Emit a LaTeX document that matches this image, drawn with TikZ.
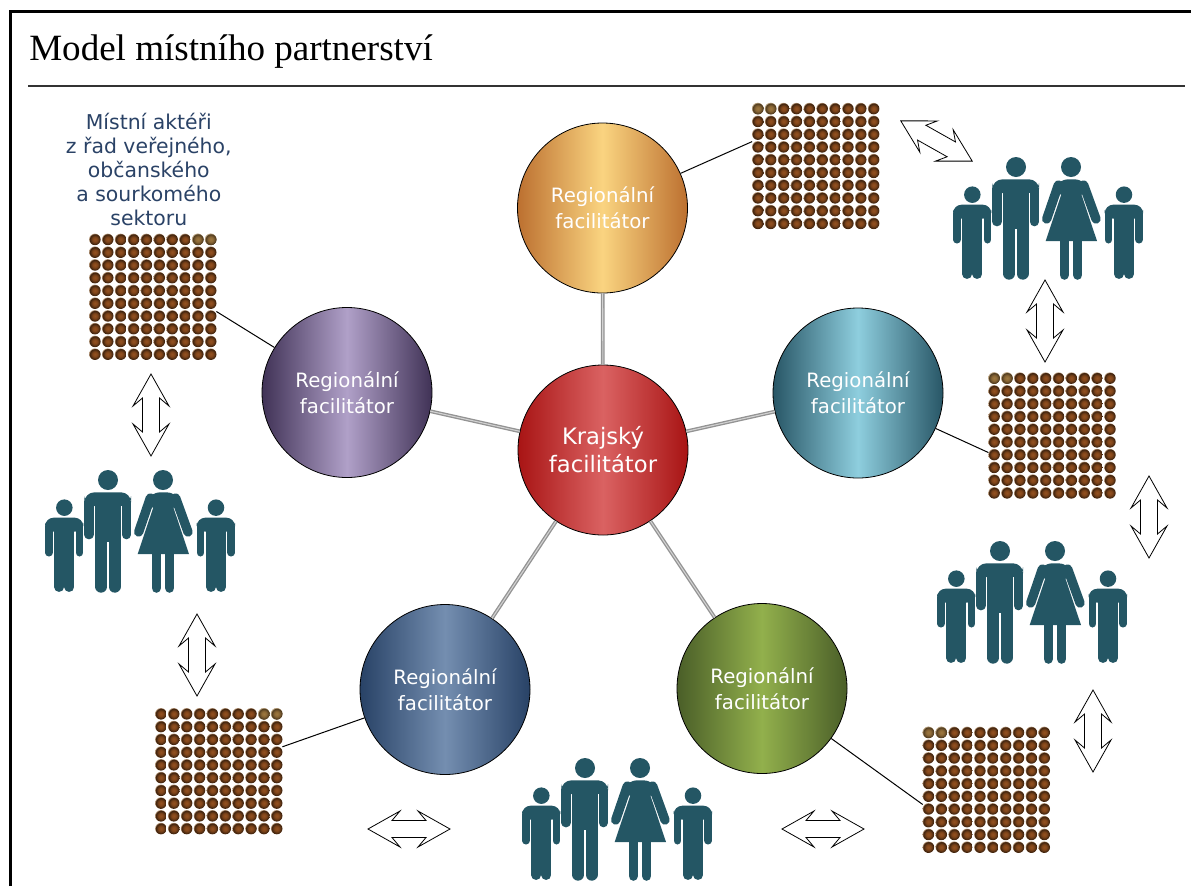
\documentclass[tikz,border=0pt]{standalone}
\usepackage{fontspec}
\setmainfont{DejaVu Sans}
\newfontfamily\titlefont{Liberation Serif}
\usetikzlibrary{positioning}
\definecolor{famteal}{RGB}{36,86,100}
\definecolor{actorblue}{RGB}{42,66,102}
\definecolor{krajedge}{RGB}{168,20,20}
\definecolor{krajmid}{RGB}{218,98,98}
\definecolor{ochreedge}{RGB}{188,112,48}
\definecolor{ochremid}{RGB}{250,212,128}
\definecolor{tealedge}{RGB}{40,86,102}
\definecolor{tealmid}{RGB}{142,206,222}
\definecolor{plumedge}{RGB}{64,50,86}
\definecolor{plummid}{RGB}{176,160,200}
\definecolor{navyedge}{RGB}{40,66,102}
\definecolor{navymid}{RGB}{116,142,176}
\definecolor{oliveedge}{RGB}{74,94,40}
\definecolor{olivemid}{RGB}{146,176,76}
\pgfdeclareradialshading{ballbrown}{\pgfpoint{0bp}{0bp}}{rgb(0bp)=(0.58,0.32,0.13); rgb(11bp)=(0.50,0.27,0.10); rgb(19bp)=(0.30,0.17,0.07); rgb(23bp)=(0.24,0.13,0.05); rgb(25bp)=(0.70,0.58,0.46); rgb(50bp)=(1,1,1)}
\pgfdeclareradialshading{ballpale}{\pgfpoint{0bp}{0bp}}{rgb(0bp)=(0.62,0.47,0.25); rgb(11bp)=(0.55,0.41,0.21); rgb(19bp)=(0.38,0.28,0.15); rgb(23bp)=(0.30,0.23,0.12); rgb(25bp)=(0.75,0.66,0.52); rgb(50bp)=(1,1,1)}

\tikzset{
	family/.pic={
		\begin{scope}[x=0.25pt,y=-0.25pt]
			% man
			\fill [famteal] (189,30) circle [radius=7.5pt];
			\fill [famteal,rounded corners=7.5pt] (118,108) -- (118,67) -- (258,67) -- (258,108) -- cycle;
			\draw [famteal,line width=7pt,line cap=round] (132,95) -- (132,194);
			\draw [famteal,line width=7pt,line cap=round] (244,95) -- (244,194);
			\fill [famteal] (150,90) rectangle (227,215);
			\draw [famteal,line width=9pt,line cap=round] (168.5,205) -- (168.5,350);
			\draw [famteal,line width=9pt,line cap=round] (208.5,205) -- (208.5,350);
			% woman
			\fill [famteal] (354,30) circle [radius=7.5pt];
			\fill [famteal,rounded corners=6pt] (301,100) -- (320,67) -- (390,67) -- (409,100) -- (385,118) -- (325,118) -- cycle;
			\draw [famteal,line width=7pt,line cap=round] (316,84) -- (281,186);
			\draw [famteal,line width=7pt,line cap=round] (392,84) -- (429,186);
			\fill [famteal] (329,100) -- (278,252) -- (432,252) -- (381,100) -- cycle;
			\draw [famteal,line width=7.2pt,line cap=round] (334,245) -- (334,354);
			\draw [famteal,line width=7.2pt,line cap=round] (374,245) -- (374,354);
			% children
			\foreach \childx in {0,455} {
				\begin{scope}[xshift=\childx*0.25pt]
					\fill [famteal] (58,113) circle [radius=6.2pt];
					\fill [famteal,rounded corners=6.5pt] (0,185) -- (0,143) -- (115,143) -- (115,185) -- cycle;
					\draw [famteal,line width=5.75pt,line cap=round] (11.5,170) -- (11.5,248);
					\draw [famteal,line width=5.75pt,line cap=round] (103.5,170) -- (103.5,248);
					\fill [famteal] (28,160) rectangle (88,265);
					\draw [famteal,line width=7.4pt,line cap=round] (42.8,255) -- (42.8,351);
					\draw [famteal,line width=7.4pt,line cap=round] (73.2,255) -- (73.2,351);
				\end{scope}
			}
		\end{scope}
	},
	twoway/.pic={
		\draw [fill=white,line width=0.6pt,line join=miter] (-41,0) -- (-9,18) -- (-17,8.5) -- (17,8.5) -- (9,18) -- (41,0) -- (9,-18) -- (17,-8.5) -- (-17,-8.5) -- (-9,-18) -- cycle;
	}
}

% balls of one grid, #1 = its box, #2 = pale balls as column/row
\newcommand{\ballgrid}[2]{
	\begin{scope}[shift={(#1)}]
		\foreach \col in {0,...,9} {
			\foreach \row in {0,...,9} {
				\shade [shading=ballbrown] ({(\col-4.5)*12.87},{(\row-4.5)*12.75}) circle [radius=5.8];
			}
		}
		\foreach \col/\row in {#2} {
			\shade [shading=ballpale] ({(\col-4.5)*12.87},{(\row-4.5)*12.75}) circle [radius=5.8];
		}
	\end{scope}
}

\begin{document}
\begin{tikzpicture}[x=0.75pt,y=-0.75pt]

	\tikzstyle{hub} = [circle, draw, line width=0.6pt, minimum size=127.5pt, inner sep=0pt, text=white, align=center]
	\tikzstyle{regional} = [hub, font=\fontsize{14.8}{19.2}\selectfont]
	\tikzstyle{gridbox} = [rectangle, minimum width=95pt, minimum height=95pt, inner sep=0pt]
	\tikzstyle{spoke} = [draw=gray!85, double=gray!35, double distance=0.8pt, line width=1pt]
	\tikzstyle{thinline} = [draw, line width=0.75pt]

	\useasboundingbox (0,0) rectangle (1191,886);

	% frame and title
	\draw [line width=2pt] (10.8,886) -- (10.8,11.3) -- (1191,11.3);
	\node [anchor=base west,inner sep=0pt,font=\titlefont\fontsize{27.8}{30}\selectfont] (title) at (29,60) {Model místního partnerství};
	\coordinate (ruleleft) at (28,86);
	\coordinate (ruleright) at (1185,86);
	\draw [line width=0.8pt,black!80] (ruleleft) -- (ruleright);

	% circles
	\node [hub,font=\fontsize{17}{21}\selectfont,left color=krajedge,right color=krajedge,middle color=krajmid] (kraj) at (603,450) {Krajský\\facilitátor};
	\node [regional,left color=ochreedge,right color=ochreedge,middle color=ochremid] (facTop) at (602.5,208) {Regionální\\facilitátor};
	\node [regional,left color=tealedge,right color=tealedge,middle color=tealmid] (facRight) at (858,393) {Regionální\\facilitátor};
	\node [regional,left color=plumedge,right color=plumedge,middle color=plummid] (facLeft) at (347,392.5) {Regionální\\facilitátor};
	\node [regional,left color=navyedge,right color=navyedge,middle color=navymid] (facLow) at (445,689.5) {Regionální\\facilitátor};
	\node [regional,left color=oliveedge,right color=oliveedge,middle color=olivemid] (facOlive) at (762,688.5) {Regionální\\facilitátor};

	% spokes
	\draw [spoke] (kraj) -- (facTop);
	\draw [spoke] (kraj) -- (facRight);
	\draw [spoke] (kraj) -- (facLeft);
	\draw [spoke] (kraj) -- (facLow);
	\draw [spoke] (kraj) -- (facOlive);

	% grids
	\node [gridbox] (gridTop) at (815.7,166) {};
	\node [gridbox] (gridLeft) at (152.8,296.8) {};
	\node [gridbox] (gridRight) at (1052,435.5) {};
	\node [gridbox] (gridLow) at (218.8,771.2) {};
	\node [gridbox] (gridOlive) at (986.3,789.8) {};
	\ballgrid{gridTop}{0/0,1/0}
	\ballgrid{gridLeft}{8/0,9/0}
	\ballgrid{gridRight}{0/0,1/0}
	\ballgrid{gridLow}{8/0,9/0}
	\ballgrid{gridOlive}{0/0,1/0}

	% thin lines
	\draw [thinline] (facTop) -- (gridTop.159);
	\draw [thinline] (facLeft) -- (gridLeft.347);
	\draw [thinline] (facRight) -- (gridRight.195);
	\draw [thinline] (facLow) -- (gridLow.21);
	\draw [thinline] (facOlive) -- (gridOlive.193);

	\node [above=5.5pt of gridLeft.north,xshift=-3pt,align=center,text=actorblue,font=\fontsize{15.3}{18}\selectfont,inner sep=0pt] (actors) {Místní aktéři\\z řad veřejného,\\občanského\\a sourkomého\\sektoru};

	% families
	\pic at (953,157) {family};
	\pic at (45,470) {family};
	\pic at (937,541) {family};
	\pic at (522,758) {family};

	% arrows
	\pic [rotate=-29.4] at (936.5,141) {twoway};
	\pic [rotate=90] at (1045,321) {twoway};
	\pic [rotate=90] at (1149,517) {twoway};
	\pic [rotate=90] at (1093,731) {twoway};
	\pic [rotate=90] at (151,415) {twoway};
	\pic [rotate=90] at (197,655) {twoway};
	\pic at (409,829) {twoway};
	\pic at (823,829) {twoway};

\end{tikzpicture}
\end{document}
